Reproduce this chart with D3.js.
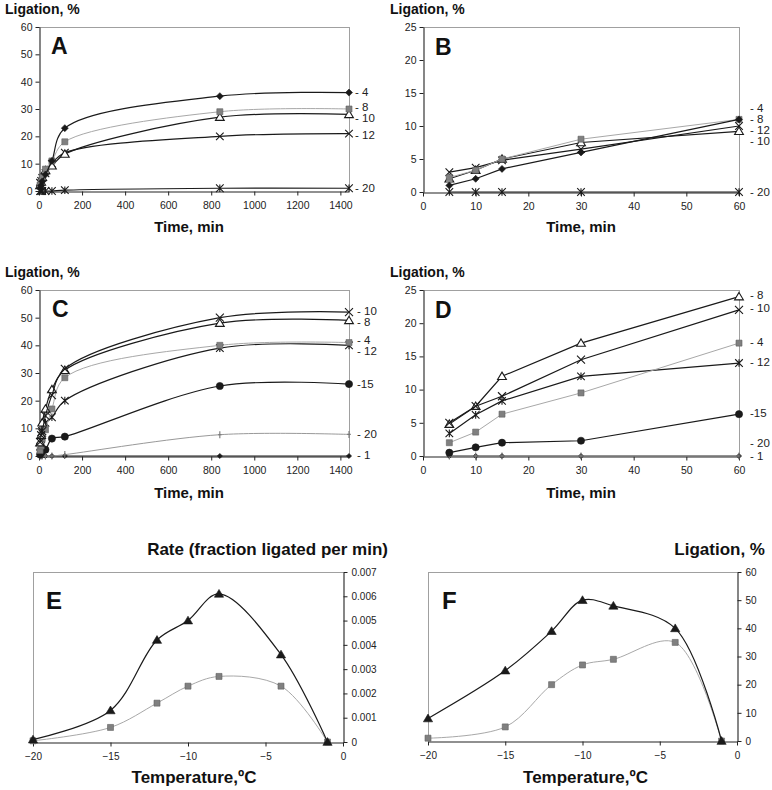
<!DOCTYPE html>
<html>
<head>
<meta charset="utf-8">
<script src="https://cdn.jsdelivr.net/npm/d3@7"></script>
<style>
  body { margin: 0; background: #fff; }
  svg { display: block; font-family: "Liberation Sans", Arial, sans-serif; }
</style>
</head>
<body>
<svg id="chart" width="772" height="790"></svg>
<script>
// ---------------- DATA ----------------
// Time points (min) for panels A-D (B and D show the first hour)
const timesLong = [5, 10, 15, 30, 60, 120, 840, 1440];
const timesShort = [5, 10, 15, 30, 60];

// Panel A/B : ligation (%) at different temperatures (°C)
const ligA_m4  = [1.0, 2.0, 3.5, 6.0, 11.0, 23.0, 34.7, 36.0];
const ligA_m8  = [2.2, 3.3, 5.0, 8.0, 11.0, 18.0, 29.0, 30.0];
const ligA_m10 = [2.0, 3.3, 5.0, 7.5, 9.2, 13.5, 27.0, 28.0];
const ligA_m12 = [3.0, 3.7, 4.8, 6.5, 10.0, 14.0, 20.0, 21.0];
const ligA_m20 = [0.0, 0.0, 0.0, 0.0, 0.0, 0.3, 1.0, 1.0];

// Panel C/D
const ligC_m10 = [5.0, 7.5, 9.0, 14.5, 22.0, 31.5, 50.0, 52.0];
const ligC_m8  = [4.8, 7.5, 12.0, 17.0, 24.0, 31.0, 48.0, 49.0];
const ligC_m4  = [2.0, 3.6, 6.3, 9.5, 17.0, 28.3, 40.0, 41.0];
const ligC_m12 = [3.4, 6.2, 8.3, 12.0, 14.0, 20.0, 39.0, 40.0];
const ligC_m15 = [0.5, 1.3, 2.0, 2.3, 6.3, 7.0, 25.3, 26.0];
const ligC_m20 = [0.0, 0.0, 0.0, 0.0, 0.0, 0.5, 7.7, 7.8];
const ligC_m1  = [0.0, 0.0, 0.0, 0.0, 0.0, 0.0, 0.0, 0.0];

// Panels E/F : temperature dependence
const temps = [-20, -15, -12, -10, -8, -4, -1];
const rateE_tri = [0.0001, 0.0013, 0.0042, 0.0050, 0.0061, 0.0036, 0.0];
const rateE_sq  = [0.00005, 0.0006, 0.0016, 0.0023, 0.0027, 0.0023, 0.0];
const ligF_tri  = [8, 25, 39, 50, 48, 40, 0];
const ligF_sq   = [1, 5, 20, 27, 29, 35, 0];

// End-of-curve labels (text and vertical position in data units)
const labelsA = ["- 4", "- 8", "- 10", "- 12", "- 20"];
const labelPosA = [36.2, 30.7, 26.7, 20.5, 1.1];
const labelsB = ["- 4", "- 8", "- 12", "- 10", "- 20"];
const labelPosB = [12.7, 11.0, 9.4, 7.7, 0.0];
const labelsC = ["- 10", "- 8", "- 4", "- 12", "-15", "- 20", "- 1"];
const labelPosC = [52.5, 48.3, 41.9, 38.0, 25.9, 7.8, 0.4];
const labelsD = ["- 8", "- 10", "- 4", "- 12", "-15", "- 20", "- 1"];
const labelPosD = [24.2, 22.3, 17.2, 14.2, 6.5, 1.9, 0.0];

// Ticks
const ticksTimeLong = [0, 200, 400, 600, 800, 1000, 1200, 1400];
const ticksTimeShort = [0, 10, 20, 30, 40, 50, 60];
const ticksLig60 = [0, 10, 20, 30, 40, 50, 60];
const ticksLig25 = [0, 5, 10, 15, 20, 25];
const ticksTemp = [-20, -15, -10, -5, 0];
const ticksRate = [0, 0.001, 0.002, 0.003, 0.004, 0.005, 0.006, 0.007];

// ---------------- DRAWING ----------------
const svg = d3.select("#chart");
const BLACK = "#1a1a1a", GRAYLINE = "#a8a8a8", GRAYMARK = "#808080";

function markerPath(type, h) {
  switch (type) {
    case "diamond": return `M0,${-h}L${h},0L0,${h}L${-h},0Z`;
    case "square": return `M${-h},${-h}H${h}V${h}H${-h}Z`;
    case "triangle": return `M0,${-h * 1.05}L${h * 1.1},${h * 0.8}L${-h * 1.1},${h * 0.8}Z`;
    case "x": return `M${-h},${-h}L${h},${h}M${-h},${h}L${h},${-h}`;
    case "star": return `M${-h},${-h}L${h},${h}M${-h},${h}L${h},${-h}M0,${-h}L0,${h}`;
    case "plus": return `M0,${-h}L0,${h}M${-h * 0.5},0L${h * 0.5},0`;
    case "circle": return d3.symbol(d3.symbolCircle, Math.PI * h * h)();
  }
}

const markerStyle = {
  diamond:   { fill: BLACK, stroke: BLACK, sw: 0.6 },
  square:    { fill: GRAYMARK, stroke: "#606060", sw: 0.6 },
  triangle:  { fill: "#fff", stroke: BLACK, sw: 1.1 },
  triFill:   { fill: BLACK, stroke: BLACK, sw: 0.6 },
  x:         { fill: "none", stroke: BLACK, sw: 1.1 },
  star:      { fill: "none", stroke: BLACK, sw: 1.1 },
  plus:      { fill: "none", stroke: "#777", sw: 1.1 },
  circle:    { fill: BLACK, stroke: BLACK, sw: 0.6 },
};

function drawPanel(cfg) {
  const g = svg.append("g");
  const f = cfg.frame;
  const x = d3.scaleLinear().domain(cfg.xDomain).range([f.l, f.r]);
  const y = d3.scaleLinear().domain(cfg.yDomain).range([f.b, f.t]);

  // gray border on the non-axis sides
  const border = g.append("g").attr("stroke", "#a0a0a0").attr("stroke-width", 1).attr("fill", "none");
  border.append("line").attr("x1", f.l).attr("x2", f.r).attr("y1", f.t + 0.5).attr("y2", f.t + 0.5);
  const bx = cfg.yAxisRight ? f.l + 0.5 : f.r + 0.5;
  border.append("line").attr("x1", bx).attr("x2", bx).attr("y1", f.t).attr("y2", f.b);

  // axes
  const xAxis = d3.axisBottom(x).tickValues(cfg.xTicks).tickSize(4).tickSizeOuter(0).tickPadding(4)
    .tickFormat(cfg.xFormat || d3.format("d"));
  const gx = g.append("g").attr("transform", `translate(0,${f.b + 0.5})`).call(xAxis);
  const yAxis = (cfg.yAxisRight ? d3.axisRight(y) : d3.axisLeft(y))
    .tickValues(cfg.yTicks).tickSize(4).tickSizeOuter(0).tickPadding(cfg.yPad || 3)
    .tickFormat(cfg.yFormat || d3.format("d"));
  const gy = g.append("g").attr("transform", `translate(${(cfg.yAxisRight ? f.r : f.l) + 0.5},0)`).call(yAxis);
  [gx, gy].forEach(a => {
    a.select(".domain").attr("stroke", "#222").attr("stroke-width", 1.1);
    a.selectAll(".tick line").attr("stroke", "#222");
    a.selectAll(".tick text").attr("fill", "#222").style("font-size", cfg.tickFont + "px")
      .style("font-family", '"Liberation Sans", Arial, sans-serif');
  });
  gx.selectAll(".tick text").attr("dy", "0.9em");

  // series
  cfg.series.forEach(s => {
    const pts = s.xs.map((v, i) => [v, s.ys[i]]);
    const line = d3.line().x(d => x(d[0])).y(d => y(d[1]))
      .curve(cfg.smooth ? d3.curveCatmullRom.alpha(0.5) : d3.curveLinear);
    g.append("path").attr("d", line(pts)).attr("fill", "none")
      .attr("stroke", s.lineColor).attr("stroke-width", s.lineWidth || 1.2);
    const st = markerStyle[s.style || s.marker];
    g.append("g").selectAll("path").data(pts).join("path")
      .attr("transform", d => `translate(${x(d[0])},${y(d[1])})`)
      .attr("d", markerPath(s.marker, s.size))
      .attr("fill", st.fill).attr("stroke", st.stroke).attr("stroke-width", st.sw);
  });

  // curve labels
  if (cfg.labels) {
    g.append("g").selectAll("text").data(cfg.labels).join("text")
      .attr("x", f.r + cfg.labelDx)
      .attr("y", (d, i) => y(cfg.labelPos[i]))
      .attr("dy", "0.35em")
      .style("font-size", "11.5px").attr("fill", "#222")
      .text(d => d);
  }

  // panel letter
  g.append("text").attr("x", f.l + cfg.letterDx).attr("y", f.t + cfg.letterDy)
    .style("font-size", cfg.letterSize + "px").style("font-weight", "bold").attr("fill", "#111")
    .text(cfg.letter);

  // titles
  g.append("text").attr("x", cfg.yTitle.x).attr("y", cfg.yTitle.y)
    .attr("text-anchor", cfg.yTitle.anchor || "start")
    .style("font-size", cfg.yTitle.size + "px").style("font-weight", "bold").attr("fill", "#111")
    .text(cfg.yTitle.text);
  g.append("text").attr("x", (f.l + f.r) / 2 + (cfg.xTitle.dx || 0)).attr("y", cfg.xTitle.y)
    .attr("text-anchor", "middle")
    .style("font-size", cfg.xTitle.size + "px").style("font-weight", "bold").attr("fill", "#111")
    .text(cfg.xTitle.text);
}

const blk = BLACK;

// Panel A
drawPanel({
  frame: { l: 39, r: 349, t: 27, b: 191 },
  xDomain: [0, 1440], yDomain: [0, 60], xTicks: ticksTimeLong, yTicks: ticksLig60,
  tickFont: 10.5, smooth: true,
  series: [
    { xs: timesLong, ys: ligA_m20, marker: "star", size: 3.8, lineColor: blk },
    { xs: timesLong, ys: ligA_m12, marker: "x", size: 3.8, lineColor: blk },
    { xs: timesLong, ys: ligA_m10, marker: "triangle", size: 4, lineColor: blk },
    { xs: timesLong, ys: ligA_m8, marker: "square", size: 3, lineColor: GRAYLINE, lineWidth: 1 },
    { xs: timesLong, ys: ligA_m4, marker: "diamond", size: 3.5, lineColor: blk },
  ],
  labels: labelsA, labelPos: labelPosA, labelDx: 6,
  letter: "A", letterDx: 12, letterDy: 27, letterSize: 23,
  yTitle: { text: "Ligation, %", x: 5, y: 14, size: 14 },
  xTitle: { text: "Time, min", y: 232, size: 15, dx: -5 },
});

// Panel B
drawPanel({
  frame: { l: 423, r: 739, t: 27, b: 192 },
  xDomain: [0, 60], yDomain: [0, 25], xTicks: ticksTimeShort, yTicks: ticksLig25,
  tickFont: 10.5, smooth: false,
  series: [
    { xs: timesShort, ys: ligA_m20.slice(0, 5), marker: "star", size: 3.8, lineColor: blk },
    { xs: timesShort, ys: ligA_m12.slice(0, 5), marker: "x", size: 3.8, lineColor: blk },
    { xs: timesShort, ys: ligA_m10.slice(0, 5), marker: "triangle", size: 4, lineColor: blk },
    { xs: timesShort, ys: ligA_m8.slice(0, 5), marker: "square", size: 3, lineColor: GRAYLINE, lineWidth: 1 },
    { xs: timesShort, ys: ligA_m4.slice(0, 5), marker: "diamond", size: 3.5, lineColor: blk },
  ],
  labels: labelsB, labelPos: labelPosB, labelDx: 11,
  letter: "B", letterDx: 12, letterDy: 28, letterSize: 23,
  yTitle: { text: "Ligation, %", x: 390, y: 14, size: 14 },
  xTitle: { text: "Time, min", y: 232, size: 15 },
});

// Panel C
drawPanel({
  frame: { l: 39, r: 349, t: 290, b: 456 },
  xDomain: [0, 1440], yDomain: [0, 60], xTicks: ticksTimeLong, yTicks: ticksLig60,
  tickFont: 10.5, smooth: true,
  series: [
    { xs: timesLong, ys: ligC_m1, marker: "diamond", size: 2.6, lineColor: blk },
    { xs: timesLong, ys: ligC_m20, marker: "plus", size: 3.5, lineColor: "#999", lineWidth: 1 },
    { xs: timesLong, ys: ligC_m15, marker: "circle", size: 3.6, lineColor: blk },
    { xs: timesLong, ys: ligC_m12, marker: "star", size: 3.8, lineColor: blk },
    { xs: timesLong, ys: ligC_m4, marker: "square", size: 3, lineColor: GRAYLINE, lineWidth: 1 },
    { xs: timesLong, ys: ligC_m8, marker: "triangle", size: 4, lineColor: blk },
    { xs: timesLong, ys: ligC_m10, marker: "x", size: 4, lineColor: blk },
  ],
  labels: labelsC, labelPos: labelPosC, labelDx: 8,
  letter: "C", letterDx: 13, letterDy: 27, letterSize: 23,
  yTitle: { text: "Ligation, %", x: 5, y: 277, size: 14 },
  xTitle: { text: "Time, min", y: 498, size: 15, dx: -5 },
});

// Panel D
drawPanel({
  frame: { l: 423, r: 739, t: 290, b: 456 },
  xDomain: [0, 60], yDomain: [0, 25], xTicks: ticksTimeShort, yTicks: ticksLig25,
  tickFont: 10.5, smooth: false,
  series: [
    { xs: timesShort, ys: ligC_m1.slice(0, 5), marker: "diamond", size: 2.6, lineColor: blk },
    { xs: timesShort, ys: ligC_m20.slice(0, 5), marker: "plus", size: 3.5, lineColor: "#999", lineWidth: 1 },
    { xs: timesShort, ys: ligC_m15.slice(0, 5), marker: "circle", size: 3.6, lineColor: blk },
    { xs: timesShort, ys: ligC_m12.slice(0, 5), marker: "star", size: 3.8, lineColor: blk },
    { xs: timesShort, ys: ligC_m4.slice(0, 5), marker: "square", size: 3, lineColor: GRAYLINE, lineWidth: 1 },
    { xs: timesShort, ys: ligC_m8.slice(0, 5), marker: "triangle", size: 4, lineColor: blk },
    { xs: timesShort, ys: ligC_m10.slice(0, 5), marker: "x", size: 4, lineColor: blk },
  ],
  labels: labelsD, labelPos: labelPosD, labelDx: 11,
  letter: "D", letterDx: 12, letterDy: 28, letterSize: 23,
  yTitle: { text: "Ligation, %", x: 390, y: 277, size: 14 },
  xTitle: { text: "Time, min", y: 498, size: 15 },
});

// Panel E
drawPanel({
  frame: { l: 33, r: 343, t: 572, b: 742 },
  xDomain: [-20, 0], yDomain: [0, 0.007], xTicks: ticksTemp, yTicks: ticksRate,
  yAxisRight: true, yFormat: d => d === 0 ? "0" : d3.format(".3f")(d), yPad: 4,
  tickFont: 10, smooth: true,
  series: [
    { xs: temps, ys: rateE_sq, marker: "square", size: 3, lineColor: GRAYLINE, lineWidth: 1 },
    { xs: temps, ys: rateE_tri, marker: "triangle", style: "triFill", size: 4.2, lineColor: blk },
  ],
  letter: "E", letterDx: 13, letterDy: 37, letterSize: 24,
  yTitle: { text: "Rate (fraction ligated per min)", x: 388, y: 555, size: 17, anchor: "end" },
  xTitle: { text: "Temperature,ºC", y: 783, size: 17, dx: 6 },
});

// Panel F
drawPanel({
  frame: { l: 428, r: 737, t: 572, b: 741 },
  xDomain: [-20, 0], yDomain: [0, 60], xTicks: ticksTemp, yTicks: ticksLig60,
  yAxisRight: true, yPad: 4,
  tickFont: 10, smooth: true,
  series: [
    { xs: temps, ys: ligF_sq, marker: "square", size: 3, lineColor: GRAYLINE, lineWidth: 1 },
    { xs: temps, ys: ligF_tri, marker: "triangle", style: "triFill", size: 4.2, lineColor: blk },
  ],
  letter: "F", letterDx: 14, letterDy: 37, letterSize: 24,
  yTitle: { text: "Ligation, %", x: 765, y: 555, size: 17, anchor: "end" },
  xTitle: { text: "Temperature,ºC", y: 783, size: 17, dx: 3 },
});
</script>
</body>
</html>
